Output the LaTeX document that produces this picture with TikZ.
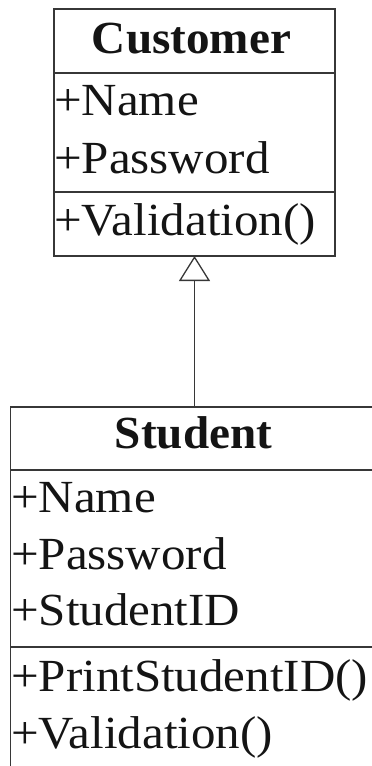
\documentclass[tikz,border=0pt]{standalone}
\usepackage{fontspec}
\setmainfont{Liberation Serif}[FakeStretch=1.065, BoldFeatures={FakeStretch=1.025}]
\usetikzlibrary{arrows.meta,positioning}
\definecolor{umlLine}{RGB}{55,55,55}
\definecolor{umlText}{RGB}{20,20,20}
\newcommand{\umlsize}{\fontsize{46pt}{58pt}\selectfont}

\begin{document}
\begin{tikzpicture}[x=1pt, y=-1pt,
  compbox/.style={draw=umlLine, line width=1.6pt, inner sep=0pt, outer sep=0pt},
  custbox/.style={compbox, minimum width=281pt},
  stubox/.style={compbox, minimum width=368pt},
  classname/.style={font=\umlsize\bfseries, text=umlText, anchor=base, inner sep=0pt},
  member/.style={font=\umlsize, text=umlText, anchor=base west, inner sep=0pt},
  inherit/.style={-{Triangle[open, length=25pt, width=31pt]}, line width=1.3pt, umlLine},
]
\useasboundingbox (0,0) rectangle (372,766);
\clip (0,0) rectangle (372,766);

%%──────────────────────────────────────────────────────────────────
%% Customer class
%%──────────────────────────────────────────────────────────────────
\node[custbox, minimum height=64pt] (custhead) at (194.5,41) {};
\node[custbox, minimum height=119pt, below=0pt of custhead] (custattr) {};
\node[custbox, minimum height=64pt, below=0pt of custattr] (custops) {};

\node[classname] (custname) at (191.5,53) {Customer};
\node[member] (custname1) at (54,115) {+Name};
\node[member] (custpass1) at (54,173) {+Password};
\node[member] (custvalid) at (54,235) {+Validation()};

%%──────────────────────────────────────────────────────────────────
%% Student class (runs past the right and bottom edge)
%%──────────────────────────────────────────────────────────────────
\node[stubox, minimum height=63pt] (stuhead) at (194.5,438.5) {};
\node[stubox, minimum height=177pt, below=0pt of stuhead] (stuattr) {};
\node[stubox, minimum height=128pt, below=0pt of stuattr] (stuops) {};

\node[classname] (stuname) at (193.5,448) {Student};
\node[member] (stuname1) at (11,512) {+Name};
\node[member] (stupass1) at (11,569) {+Password};
\node[member] (stuid) at (11,625) {+StudentID};
\node[member] (stuprint) at (11,691) {+PrintStudentID()};
\node[member] (stuvalid) at (11,748) {+Validation()};

% generalisation: Student -> Customer
\draw[inherit] (stuhead.north) -- (stuhead.north |- custops.south);

\end{tikzpicture}
\end{document}
